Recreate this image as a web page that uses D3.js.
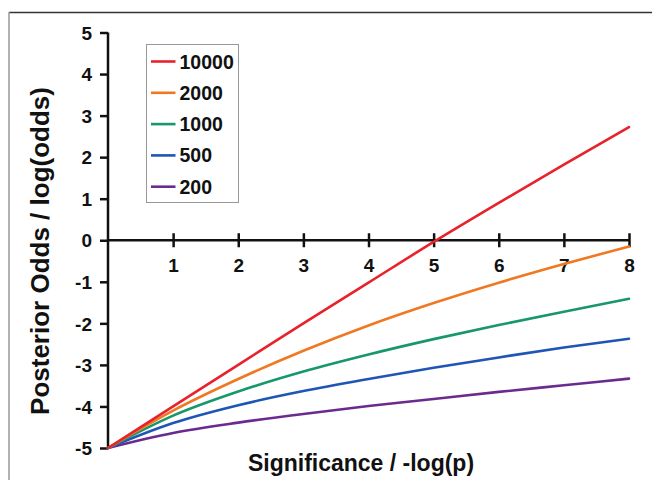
<!DOCTYPE html>
<html>
<head>
<meta charset="utf-8">
<script src="https://cdn.jsdelivr.net/npm/d3@7/dist/d3.min.js"></script>
<style>
  html, body { margin: 0; padding: 0; background: #fff; }
  svg { display: block; }
  text { font-family: "Liberation Sans", Arial, sans-serif; font-weight: bold; fill: #111; }
</style>
</head>
<body>
<script>
// ---- data ----
const xValues = [0, 1, 2, 3, 4, 5, 6, 7, 8];
const seriesNames = ["10000", "2000", "1000", "500", "200"];
const seriesColors = ["#e8222b", "#f07822", "#17976a", "#1f55b5", "#6b2a8e"];
const values10000 = [-5, -4.0, -3.0, -2.0, -1.02, -0.04, 0.90, 1.82, 2.72];
const values2000  = [-5, -4.10, -3.34, -2.66, -2.05, -1.51, -1.02, -0.57, -0.15];
const values1000  = [-5, -4.22, -3.64, -3.16, -2.75, -2.38, -2.04, -1.72, -1.41];
const values500   = [-5, -4.40, -3.97, -3.63, -3.34, -3.07, -2.82, -2.58, -2.37];
const values200   = [-5, -4.64, -4.39, -4.18, -3.99, -3.82, -3.65, -3.49, -3.33];
const xTicks = [1, 2, 3, 4, 5, 6, 7, 8];
const yTicks = [5, 4, 3, 2, 1, 0, -1, -2, -3, -4, -5];
const xTitle = "Significance / -log(p)";
const yTitle = "Posterior Odds / log(odds)";

const allSeries = [values10000, values2000, values1000, values500, values200];

const W = 652, H = 480;
const svg = d3.select("body").append("svg").attr("width", W).attr("height", H);

// frame
svg.append("line").attr("x1", 9).attr("x2", W).attr("y1", 12.5).attr("y2", 12.5)
  .attr("stroke", "#333").attr("stroke-width", 1.5);
svg.append("line").attr("x1", 9).attr("x2", 9).attr("y1", 12).attr("y2", H)
  .attr("stroke", "#999").attr("stroke-width", 1.5);

const x = d3.scaleLinear().domain([0, 8]).range([108, 629]);
const y = d3.scaleLinear().domain([-5, 5]).range([448, 32.5]);
const fmt = d => String(d);

// y axis
const yAxis = svg.append("g").attr("transform", `translate(${x(0)},0)`)
  .call(d3.axisLeft(y).tickValues(yTicks).tickSize(8).tickPadding(8).tickFormat(fmt));
yAxis.select(".domain").attr("d", `M0,${y(5)}V${y(-5)}`).attr("stroke", "#111").attr("stroke-width", 2.5);
yAxis.selectAll(".tick line").attr("stroke", "#111").attr("stroke-width", 2.5);
yAxis.selectAll(".tick text").style("font-size", "19px").style("font-family", "Liberation Sans, Arial, sans-serif").style("font-weight", "bold").attr("fill", "#111").attr("dy", "0.35em");

// x axis at y=0
const xAxis = svg.append("g").attr("transform", `translate(0,${y(0)})`)
  .call(d3.axisBottom(x).tickValues(xTicks).tickSize(7).tickPadding(11).tickFormat(fmt));
xAxis.select(".domain").attr("d", `M${x(0)},0H${x(8)}`).attr("stroke", "#111").attr("stroke-width", 2.5);
xAxis.selectAll(".tick line").attr("y1", -7).attr("y2", 7).attr("stroke", "#111").attr("stroke-width", 2.5);
xAxis.selectAll(".tick text").style("font-size", "19px").style("font-family", "Liberation Sans, Arial, sans-serif").style("font-weight", "bold").attr("fill", "#111");

// lines
const line = d3.line().x((d, i) => x(xValues[i])).y(d => y(d)).curve(d3.curveMonotoneX);
allSeries.slice().reverse().forEach((vals, ri) => {
  const i = allSeries.length - 1 - ri;
  svg.append("path").datum(vals).attr("d", line)
    .attr("fill", "none").attr("stroke", seriesColors[i]).attr("stroke-width", 2.6)
    .attr("stroke-linejoin", "round").attr("stroke-linecap", "round");
});

// legend
const lg = svg.append("g");
lg.append("rect").attr("x", 146.5).attr("y", 44.5).attr("width", 92).attr("height", 158)
  .attr("fill", "#fff").attr("stroke", "#999").attr("stroke-width", 1);
seriesNames.forEach((name, i) => {
  const yy = 61.5 + i * 31.3;
  lg.append("line").attr("x1", 151).attr("x2", 175.5).attr("y1", yy).attr("y2", yy)
    .attr("stroke", seriesColors[i]).attr("stroke-width", 2.6);
  lg.append("text").attr("x", 179.5).attr("y", yy).attr("dy", "0.36em")
    .style("font-size", "19.5px").text(name);
});

// titles
svg.append("text").attr("x", 361).attr("y", 471).attr("text-anchor", "middle")
  .style("font-size", "23px").text(xTitle);
svg.append("text").attr("transform", "translate(49,251) rotate(-90)").attr("text-anchor", "middle")
  .style("font-size", "26px").text(yTitle);
</script>
</body>
</html>
